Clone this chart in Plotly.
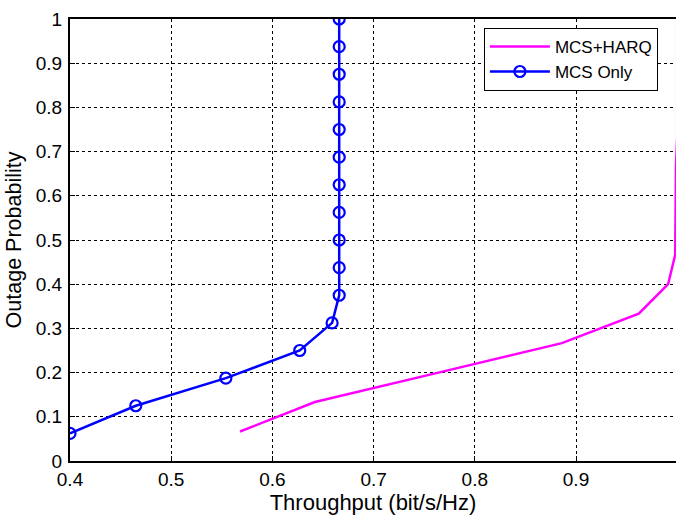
import plotly.graph_objects as go

# Outage probability levels (fractions of frames)
harq_outage = [1/15, 2/15, 3/15, 4/15, 5/15, 6/15, 7/15, 8/15, 9/15, 10/15,
               11/15, 12/15, 13/15, 14/15, 15/15]
harq_throughput = [0.568, 0.642, 0.764, 0.886, 0.962, 0.991, 0.998, 0.9984,
                   0.9986, 0.9988, 1.0, 1.0, 1.0, 1.0, 1.0]

mcs_outage = [k / 16 for k in range(1, 17)]
mcs_throughput = [0.400, 0.465, 0.554, 0.627, 0.659, 0.666, 0.666, 0.666,
                  0.666, 0.666, 0.666, 0.666, 0.666, 0.666, 0.666, 0.666]

x_ticks = [0.4, 0.5, 0.6, 0.7, 0.8, 0.9, 1.0]
x_tick_text = ["0.4", "0.5", "0.6", "0.7", "0.8", "0.9", "1"]
y_ticks = [0, 0.1, 0.2, 0.3, 0.4, 0.5, 0.6, 0.7, 0.8, 0.9, 1.0]
y_tick_text = ["0", "0.1", "0.2", "0.3", "0.4", "0.5", "0.6", "0.7", "0.8", "0.9", "1"]

FONT = "Liberation Sans, Arial, sans-serif"

fig = go.Figure()
fig.add_trace(go.Scatter(
    x=harq_throughput, y=harq_outage, mode="lines", name="MCS+HARQ",
    line=dict(color="#ff00ff", width=2.5),
))
fig.add_trace(go.Scatter(
    x=mcs_throughput, y=mcs_outage, mode="lines+markers", name="MCS Only",
    line=dict(color="#0000ff", width=2.5),
    marker=dict(symbol="circle-open", size=11, color="#0000ff",
                line=dict(width=2.2, color="#0000ff")),
))

axis_common = dict(
    showgrid=True, gridcolor="black", gridwidth=1, griddash="3px,3px",
    zeroline=False, showline=True, linecolor="black", linewidth=2,
    ticks="inside", ticklen=5, tickcolor="black", tickwidth=1,
    tickfont=dict(family=FONT, size=19, color="black"),
)

fig.update_xaxes(
    range=[0.4, 0.9988], tickvals=x_ticks, ticktext=x_tick_text,
    mirror=True, ticklabelstandoff=0,
    title=dict(text="Throughput (bit/s/Hz)", font=dict(family=FONT, size=22, color="black"),
               standoff=6),
    **axis_common,
)
fig.update_yaxes(
    range=[0, 1], tickvals=y_ticks, ticktext=y_tick_text,
    mirror=False, ticklabelstandoff=2,
    title=dict(text="Outage Probability", font=dict(family=FONT, size=21.5, color="black"),
               standoff=8),
    **axis_common,
)

fig.update_layout(
    width=676, height=518,
    margin=dict(l=70, r=0, t=19, b=57),
    paper_bgcolor="white", plot_bgcolor="white",
    font=dict(family=FONT, color="black"),
    legend=dict(
        x=0.683, y=0.98, xanchor="left", yanchor="top",
        bgcolor="white", bordercolor="black", borderwidth=1,
        font=dict(family=FONT, size=17, color="black"),
        tracegroupgap=0, itemwidth=60,
        entrywidth=133, entrywidthmode="pixels",
    ),
    showlegend=True,
)

fig.write_html("out.html")
